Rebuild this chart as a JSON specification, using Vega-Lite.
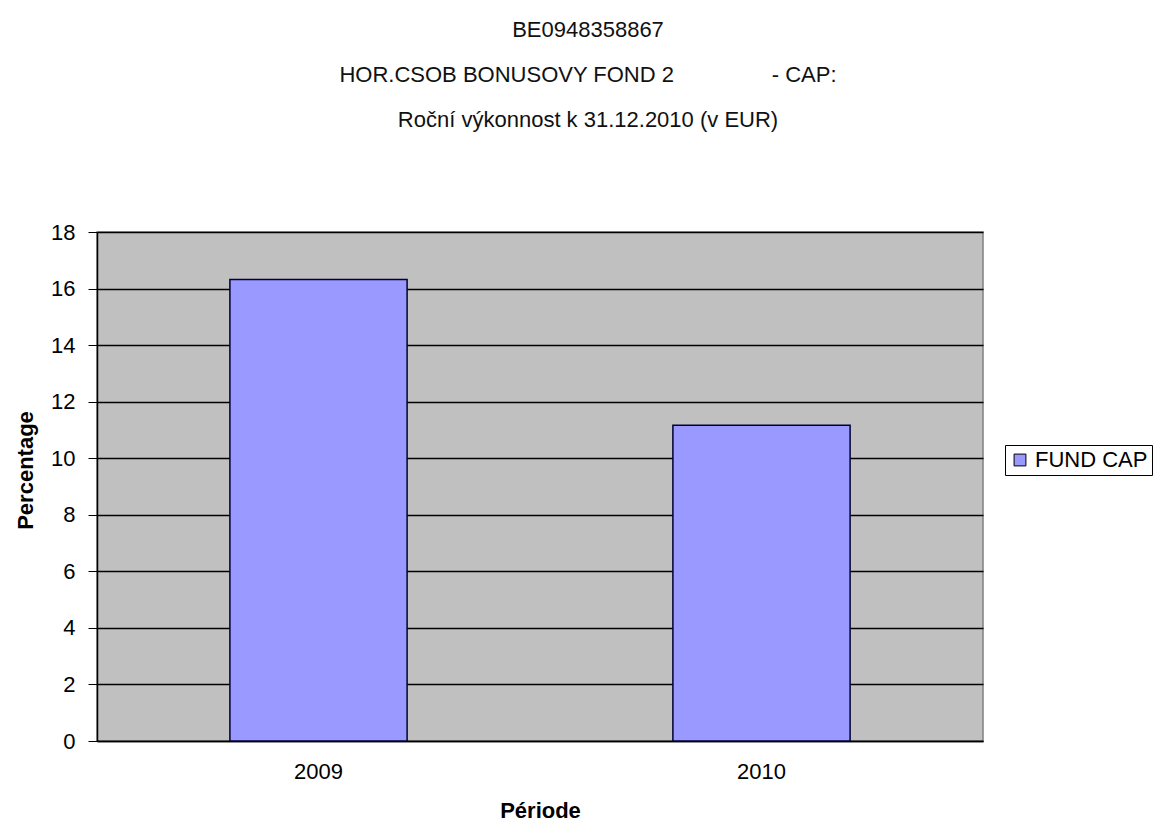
{
  "$schema": "https://vega.github.io/schema/vega-lite/v6.json",
  "width": 886,
  "height": 509,
  "autosize": {"type": "none"},
  "padding": {"left": 97, "top": 232, "right": 178, "bottom": 80},
  "background": "white",
  "title": {
    "text": ["BE0948358867", "HOR.CSOB BONUSOVY FOND 2\u00a0\u00a0\u00a0\u00a0\u00a0\u00a0\u00a0\u00a0\u00a0\u00a0\u00a0\u00a0\u00a0\u00a0\u00a0\u00a0- CAP:", "Roční výkonnost k 31.12.2010 (v EUR)"],
    "anchor": "middle",
    "frame": "group",
    "dx": 48,
    "offset": 89,
    "fontSize": 22,
    "font": "Liberation Sans",
    "fontWeight": "normal",
    "lineHeight": 45,
    "color": "#111111"
  },
  "data": {
    "values": [
      {"period": "2009", "series": "FUND CAP", "pct": 16.32},
      {"period": "2010", "series": "FUND CAP", "pct": 11.17}
    ]
  },
  "mark": {"type": "bar", "stroke": "#000033", "strokeWidth": 1.5},
  "encoding": {
    "x": {
      "field": "period",
      "type": "nominal",
      "scale": {"paddingInner": 0.6, "paddingOuter": 0.3},
      "axis": {
        "title": "Période",
        "labelAngle": 0,
        "ticks": false,
        "labelPadding": 20,
        "titleY": 76,
        "titleBaseline": "alphabetic",
        "domainColor": "#000000",
        "domainWidth": 1.5
      }
    },
    "y": {
      "field": "pct",
      "type": "quantitative",
      "scale": {"domain": [0, 18]},
      "axis": {
        "title": "Percentage",
        "values": [0, 2, 4, 6, 8, 10, 12, 14, 16, 18],
        "tickSize": 9,
        "tickColor": "#000000",
        "labelPadding": 13,
        "grid": true,
        "gridColor": "#000000",
        "gridWidth": 1.5,
        "domainColor": "#000000",
        "domainWidth": 1.5,
        "titleX": -72,
        "titleY": 238,
        "titleAngle": -90,
        "titleAlign": "center",
        "titleBaseline": "middle"
      }
    },
    "color": {
      "field": "series",
      "type": "nominal",
      "scale": {"domain": ["FUND CAP"], "range": ["#9999FF"]},
      "legend": {
        "title": null,
        "orient": "none",
        "legendX": 908,
        "legendY": 213,
        "fillColor": "#ffffff",
        "strokeColor": "#000000",
        "padding": 4,
        "symbolType": "square",
        "symbolSize": 140,
        "symbolStrokeColor": "#000000",
        "symbolStrokeWidth": 1,
        "symbolOpacity": 1,
        "labelFontSize": 22,
        "labelFont": "Liberation Sans",
        "labelColor": "#000000",
        "labelOffset": 4
      }
    }
  },
  "config": {
    "view": {"fill": "#C0C0C0", "stroke": "#808080", "strokeWidth": 1.5},
    "axis": {
      "labelFont": "Liberation Sans",
      "labelFontSize": 22,
      "labelColor": "#000000",
      "titleFont": "Liberation Sans",
      "titleFontSize": 22,
      "titleFontWeight": "bold",
      "titleColor": "#000000"
    }
  }
}
